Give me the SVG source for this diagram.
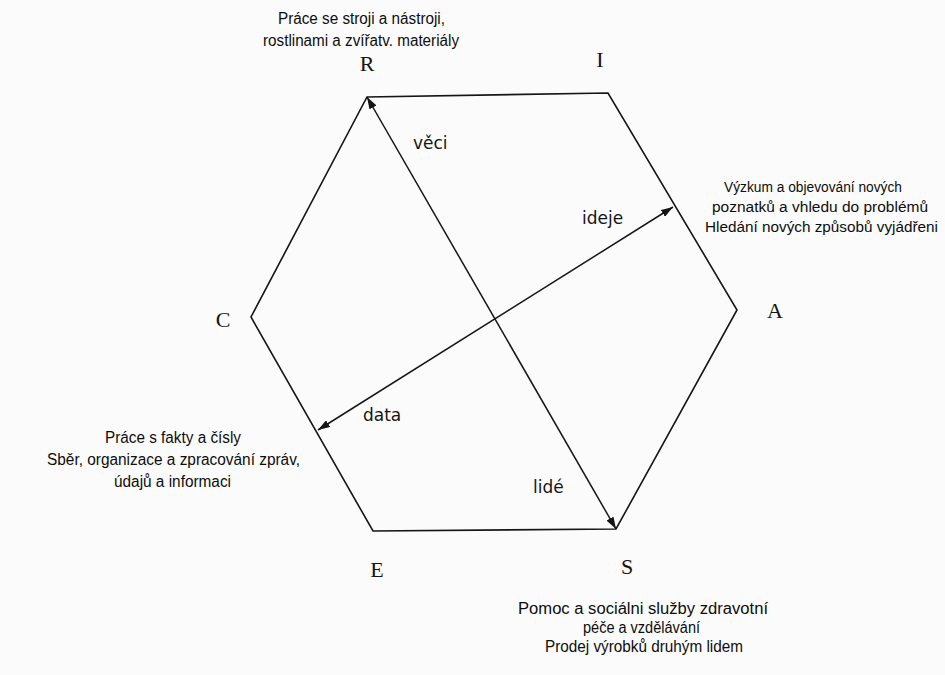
<svg xmlns="http://www.w3.org/2000/svg" width="945" height="675" viewBox="0 0 945 675">
  <style>
    .edge { fill: none; stroke: #151515; stroke-width: 1.6; stroke-linejoin: miter; }
    .conn { fill: none; stroke: #151515; stroke-width: 1.5; }
    .vx { font-family: "Liberation Serif", "Times New Roman", serif; font-size: 22px; fill: #151515; text-anchor: middle; }
    .desc { font-family: "Liberation Sans", Arial, sans-serif; font-size: 16px; fill: #0d0d0d; }
    .desc-r { font-family: "Liberation Sans", Arial, sans-serif; font-size: 15.4px; fill: #0d0d0d; }
    .lbl { font-family: "DejaVu Sans", Verdana, sans-serif; font-size: 17px; fill: #151515; }
  </style>
  <defs>
    <marker id="ah" viewBox="0 0 12 8" refX="12" refY="4" markerWidth="12" markerHeight="8" markerUnits="userSpaceOnUse" orient="auto-start-reverse">
      <path d="M0,0 L12,4 L0,8 z" fill="#151515"/>
    </marker>
  </defs>
  <rect x="0" y="0" width="945" height="675" fill="#fbfbfb"/>

  <g id="hexagon">
    <polygon class="edge" points="367,97 608,93 737,310 616,529 373,531 251,317"/>
  </g>

  <g id="connectors">
    <line class="conn" x1="367" y1="97" x2="616" y2="529" marker-start="url(#ah)" marker-end="url(#ah)"/>
    <line class="conn" x1="318" y1="430" x2="673" y2="207" marker-start="url(#ah)" marker-end="url(#ah)"/>
    <text class="lbl" x="413" y="149">věci</text>
    <text class="lbl" x="533" y="493">lidé</text>
    <text class="lbl" x="582" y="224">ideje</text>
    <text class="lbl" x="363" y="421">data</text>
  </g>

  <g id="node-R">
    <text class="vx" x="367" y="71">R</text>
    <text class="desc" x="278" y="24" textLength="167" lengthAdjust="spacingAndGlyphs">Práce se stroji a nástroji,</text>
    <text class="desc" x="263" y="46" textLength="196" lengthAdjust="spacingAndGlyphs">rostlinami a zvířatv. materiály</text>
  </g>

  <g id="node-I">
    <text class="vx" x="600" y="67">I</text>
    <text class="desc-r" x="724" y="192" textLength="178" lengthAdjust="spacingAndGlyphs">Výzkum a objevování nových</text>
    <text class="desc-r" x="712" y="212" textLength="216" lengthAdjust="spacingAndGlyphs">poznatků a vhledu do problémů</text>
    <text class="desc-r" x="705" y="232" textLength="233" lengthAdjust="spacingAndGlyphs">Hledání nových způsobů vyjádřeni</text>
  </g>

  <g id="node-A">
    <text class="vx" x="775" y="318">A</text>
  </g>

  <g id="node-S">
    <text class="vx" x="627" y="574">S</text>
    <text class="desc" x="518" y="614" textLength="250" lengthAdjust="spacingAndGlyphs">Pomoc a sociálni služby zdravotní</text>
    <text class="desc" x="583" y="633" textLength="117" lengthAdjust="spacingAndGlyphs">péče a vzdělávání</text>
    <text class="desc" x="545" y="652" textLength="198" lengthAdjust="spacingAndGlyphs">Prodej výrobků druhým lidem</text>
  </g>

  <g id="node-E">
    <text class="vx" x="377" y="577">E</text>
  </g>

  <g id="node-C">
    <text class="vx" x="223" y="327">C</text>
    <text class="desc" x="105" y="443" textLength="136" lengthAdjust="spacingAndGlyphs">Práce s fakty a čísly</text>
    <text class="desc" x="47" y="465" textLength="253" lengthAdjust="spacingAndGlyphs">Sběr, organizace a zpracování zpráv,</text>
    <text class="desc" x="114" y="487" textLength="117" lengthAdjust="spacingAndGlyphs">údajů a informaci</text>
  </g>
</svg>
